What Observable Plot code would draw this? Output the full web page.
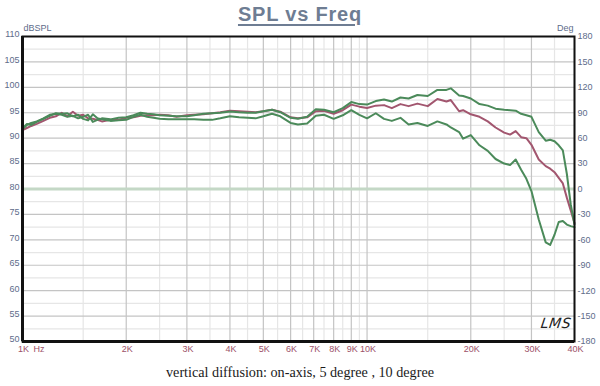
<!DOCTYPE html>
<html>
<head>
<meta charset="utf-8">
<script src="https://cdn.jsdelivr.net/npm/d3@7"></script>
<script src="https://cdn.jsdelivr.net/npm/@observablehq/plot@0.6"></script>
<style>
  html, body { margin: 0; padding: 0; background: #fff; }
  #wrap { position: relative; width: 600px; height: 386px; overflow: hidden; }
  #title { position: absolute; left: 0; top: 3px; width: 600px; text-align: center;
    font: bold 20px Arial, "Liberation Sans", sans-serif; letter-spacing: 0.8px;
    color: #6e7d93; text-decoration: underline; text-underline-offset: 3px; }
  #caption { position: absolute; left: 0; top: 364px; width: 600px; text-align: center;
    font: 14.2px "Liberation Serif", "Times New Roman", serif; color: #1a1a1a; }
  #logo { position: absolute; left: 541px; top: 315px;
    font: italic 14px "DejaVu Sans", sans-serif; color: #222; letter-spacing: 0.5px; transform: skewX(-8deg); }
</style>
</head>
<body>
<div id="wrap">
  <div id="chart"></div>
  <div id="title">SPL vs Freq</div>
  <div id="logo">LMS</div>
  <div id="caption">vertical diffusion: on-axis, 5 degree , 10 degree</div>
</div>
<script>
const freqs = [1000,1030,1060,1100,1150,1200,1250,1300,1350,1400,1450,1500,1550,1600,1650,1700,1800,1900,2000,2100,2200,2300,2400,2500,2650,2800,3000,3150,3350,3550,3750,4000,4250,4500,4750,5000,5300,5600,6000,6300,6700,7100,7500,8000,8500,9000,9500,10000,10600,11200,11800,12500,13200,14000,15000,16000,17000,17500,18500,19000,20000,21200,22400,23600,25000,26000,27000,28000,29000,30000,31500,33000,34000,35000,36000,37000,38000,39000,40000];

const onAxis = [91.8,92.6,93.0,93.3,93.9,94.6,94.8,94.6,94.2,94.4,93.9,94.2,94.6,93.2,93.6,93.9,93.7,94.0,94.1,94.5,95.0,94.8,94.7,94.5,94.4,94.3,94.3,94.5,94.8,94.9,95.0,95.25,95.1,95.0,95.0,95.3,95.6,95.1,94.0,93.8,94.2,95.7,95.6,95.1,95.9,97.1,96.7,96.6,97.3,97.6,97.2,98.0,97.8,98.5,98.3,99.5,99.5,99.8,98.4,98.3,97.8,96.7,96.4,95.8,95.6,95.5,95.4,94.8,94.5,94.2,91.2,89.5,89.7,89.4,88.6,87.6,83.0,77.0,73.0];

const deg5 = [91.6,92.0,92.4,92.8,93.4,94.0,94.3,95.0,94.3,95.2,94.4,94.6,93.9,93.8,93.6,93.3,93.6,93.6,94.0,94.1,94.4,94.5,94.5,94.6,94.5,94.2,94.5,94.6,94.7,94.9,95.1,95.4,95.3,95.2,95.1,95.3,95.6,95.2,94.1,93.9,94.1,95.3,95.4,94.8,95.5,96.6,96.2,95.95,96.4,96.5,95.9,96.7,96.3,96.8,96.3,97.7,97.2,97.5,95.3,95.5,94.7,94.2,93.3,92.1,91.1,90.7,91.4,90.2,90.0,88.7,85.8,84.5,84.0,83.3,82.2,81.1,78.3,75.8,73.3];

const deg10 = [91.9,92.8,92.6,93.2,93.8,94.4,94.9,94.8,94.9,94.3,94.6,93.8,93.5,94.7,93.9,93.7,93.4,93.5,93.6,94.2,94.6,94.2,94.0,93.8,93.7,93.7,93.7,93.7,93.6,93.6,93.9,94.3,94.1,94.0,93.9,94.3,94.8,94.3,93.0,92.7,92.9,94.4,94.6,93.8,94.5,95.5,94.6,93.9,94.9,93.8,93.4,94.0,92.7,93.0,92.4,93.3,92.7,92.1,91.2,89.9,90.6,88.6,87.5,85.9,85.0,84.7,85.8,83.8,82.0,79.6,74.0,69.5,69.0,71.0,73.5,73.7,73.0,72.7,72.5];

const xMajor = [1000,2000,3000,4000,5000,6000,7000,8000,9000,10000,20000,30000,40000];
const xMinor = [1500,2500,3500,4500,5500,6500,7500,8500,9500,15000,25000,35000];
const xLabels = ["1K","2K","3K","4K","5K","6K","7K","8K","9K","10K","20K","30K","40K"];
const yMajor = [50,55,60,65,70,75,80,85,90,95,100,105,110];
const yMinor = [52.5,57.5,62.5,67.5,72.5,77.5,82.5,87.5,92.5,97.5,102.5,107.5];
const degTicks = [180,150,120,90,60,30,0,-30,-60,-90,-120,-150,-180];
const refLine = [80];

const rows = (vals) => freqs.map((f, i) => ({f, db: vals[i]}));
const degToDb = d => 80 + d / 6;
const xTickRows = xMajor.map((f, i) => ({f, label: xLabels[i]}));

const axisColor = "#5d6c8a";
const xColor = "#9c5069";
const green = "#4b8a5a";
const maroon = "#a2566f";

const chart = Plot.plot({
  width: 600,
  height: 386,
  marginLeft: 22,
  marginRight: 26,
  marginTop: 36,
  marginBottom: 45,
  style: {fontFamily: "Arial, 'Liberation Sans', sans-serif", background: "transparent"},
  x: {type: "log", domain: [1000, 40000], axis: null},
  y: {domain: [50, 110], axis: null},
  marks: [
    Plot.ruleX(xMinor, {stroke: "#e6e6e6", strokeWidth: 1.2}),
    Plot.ruleY(yMinor, {stroke: "#e6e6e6", strokeWidth: 1.2}),
    Plot.ruleX(xMajor, {stroke: "#c4c4c4", strokeWidth: 1.2}),
    Plot.ruleY(yMajor, {stroke: "#c4c4c4", strokeWidth: 1.2}),
    Plot.ruleY(refLine, {stroke: "#c4d8c6", strokeWidth: 3}),
    Plot.line(rows(deg5), {x: "f", y: "db", stroke: maroon, strokeWidth: 2}),
    Plot.line(rows(deg10), {x: "f", y: "db", stroke: green, strokeWidth: 2}),
    Plot.line(rows(onAxis), {x: "f", y: "db", stroke: green, strokeWidth: 2}),
    Plot.frame({stroke: "#111", strokeWidth: 2}),
    Plot.ruleX([1000], {stroke: "#111", strokeWidth: 3}),
    Plot.ruleY([50], {stroke: "#111", strokeWidth: 3}),
    Plot.text(xTickRows, {x: "f", text: "label", frameAnchor: "bottom", dy: 4, dx: 1,
      lineAnchor: "top", fill: xColor, fontSize: 9}),
    Plot.text(["Hz"], {frameAnchor: "bottom-left", dx: 11, dy: 4, textAnchor: "start",
      lineAnchor: "top", fill: xColor, fontSize: 9}),
    Plot.axisY(yMajor, {anchor: "left", tickSize: 0, tickPadding: 3, fontSize: 9,
      fill: axisColor, dy: -2, label: null}),
    Plot.axisY(degTicks.map(degToDb), {anchor: "right", tickSize: 0, tickPadding: 3, fontSize: 9,
      fill: axisColor, tickFormat: v => String(Math.round((v - 80) * 6)), label: null}),
    Plot.text(["dBSPL"], {frameAnchor: "top-left", dx: 1, dy: -6, textAnchor: "start",
      lineAnchor: "bottom", fill: axisColor, fontSize: 9}),
    Plot.text(["Deg"], {frameAnchor: "top-right", dx: -1, dy: -6, textAnchor: "end",
      lineAnchor: "bottom", fill: axisColor, fontSize: 9})
  ]
});
document.getElementById("chart").appendChild(chart);
</script>
</body>
</html>
